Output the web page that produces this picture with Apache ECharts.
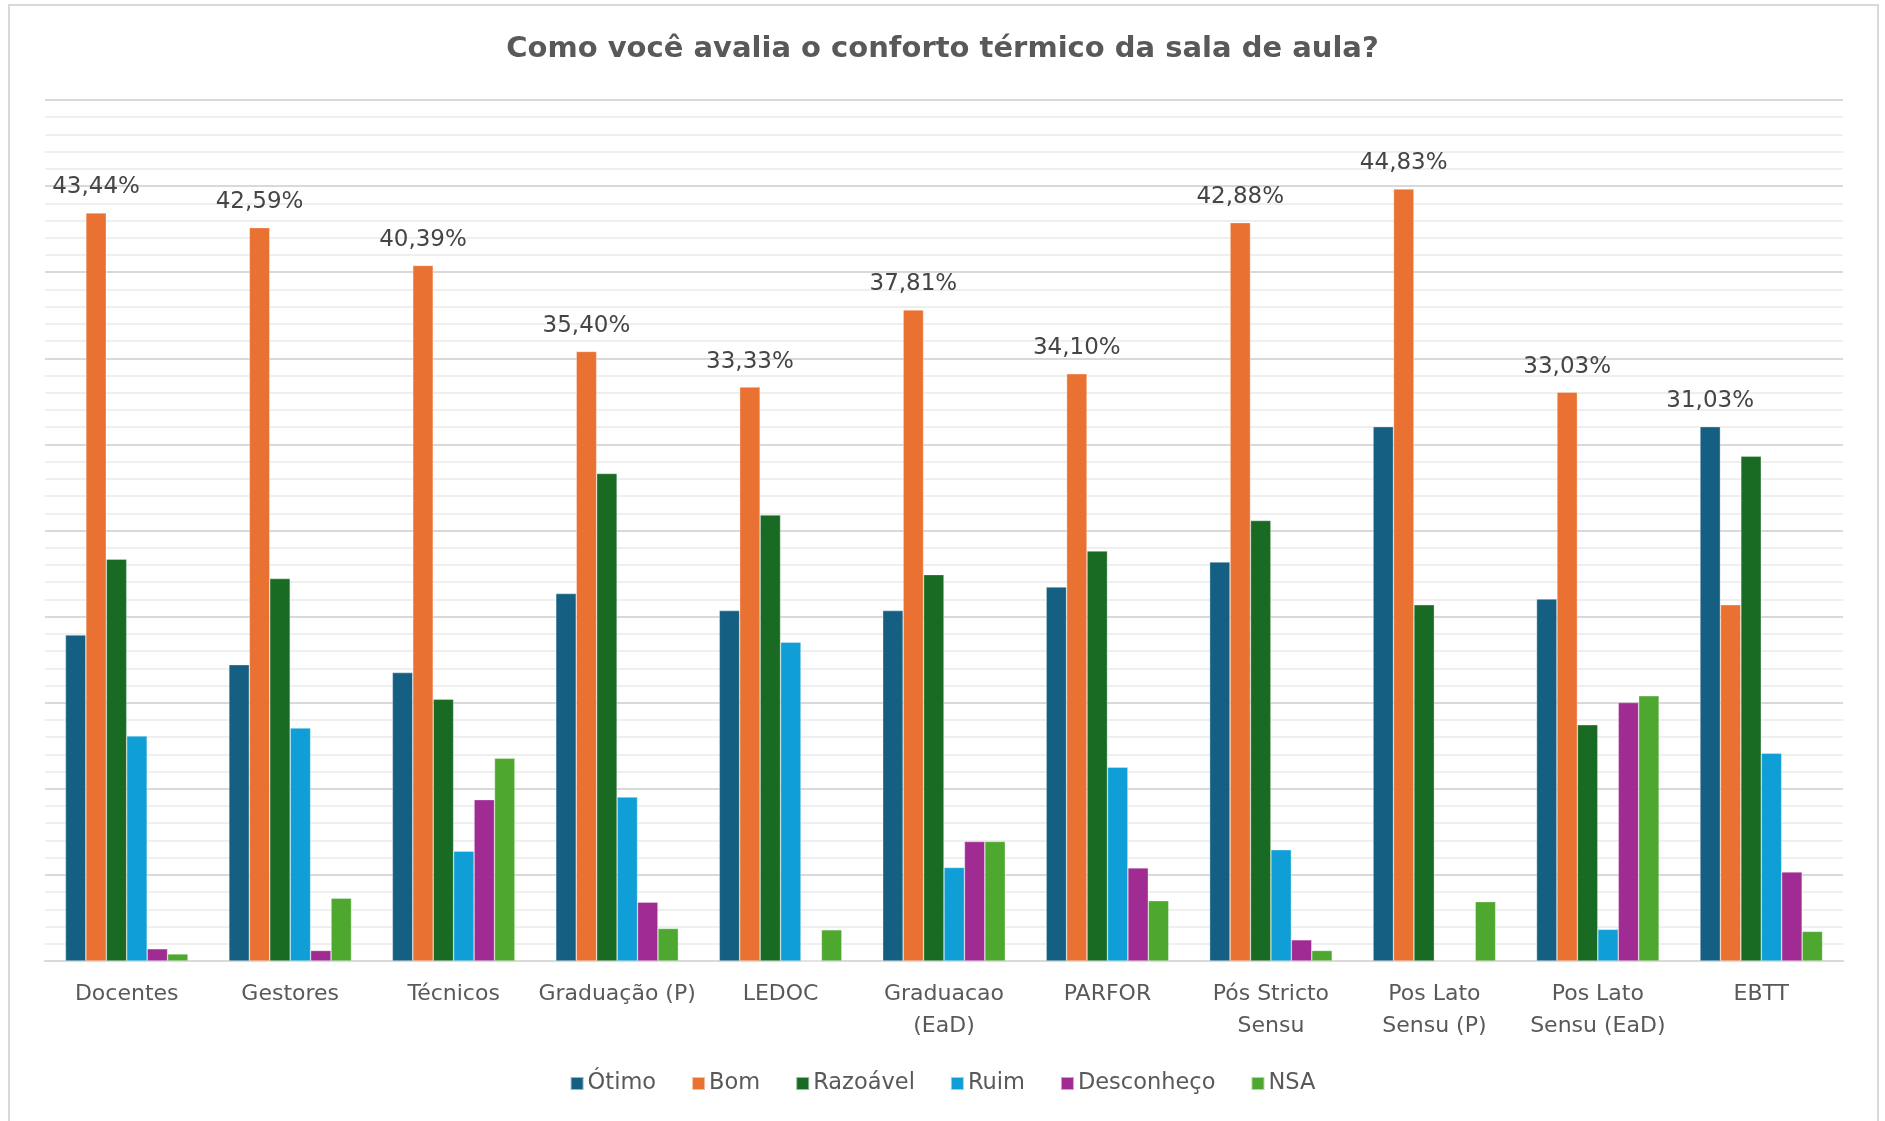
<!DOCTYPE html>
<html>
<head>
<meta charset="utf-8">
<script src="https://cdn.jsdelivr.net/npm/echarts@6/dist/echarts.min.js"></script>
<style>
  html, body { margin: 0; padding: 0; background: #ffffff; }
  #chart { width: 1885px; height: 1121px; }
</style>
</head>
<body>
<div id="chart"></div>
<script>
// Respondent groups (tick labels, broken onto two lines where needed)
const categories = [
  'Docentes', 'Gestores', 'Técnicos', 'Graduação (P)', 'LEDOC',
  'Graduacao\n(EaD)', 'PARFOR', 'Pós Stricto\nSensu', 'Pos Lato\nSensu (P)',
  'Pos Lato\nSensu (EaD)', 'EBTT'
];

// Answer shares per group, in percent
const otimo       = [18.93, 17.21, 16.75, 21.34, 20.35, 20.35, 21.72, 23.17, 31.03, 21.02, 31.03];
const bom         = [43.44, 42.59, 40.39, 35.40, 33.33, 37.81, 34.10, 42.88, 44.83, 33.03, 20.69];
const razoavel    = [23.34, 22.21, 15.21, 28.31, 25.90, 22.44, 23.81, 25.58, 20.69, 13.72, 29.31];
const ruim        = [13.07, 13.53,  6.38,  9.52, 18.51,  5.43, 11.26,  6.46,  0.00,  1.84, 12.07];
const desconheco  = [ 0.71,  0.61,  9.37,  3.42,  0.00,  6.94,  5.41,  1.23,  0.00, 15.01,  5.17];
const nsa         = [ 0.41,  3.65, 11.77,  1.89,  1.81,  6.94,  3.50,  0.61,  3.45, 15.40,  1.72];

const seriesNames = ['Ótimo', 'Bom', 'Razoável', 'Ruim', 'Desconheço', 'NSA'];
const seriesValues = [otimo, bom, razoavel, ruim, desconheco, nsa];
const seriesColors = ['#156082', '#E97132', '#196B24', '#0F9ED5', '#A02B93', '#4EA72E'];

const FONT = '"DejaVu Sans", "Liberation Sans", sans-serif';

// The tallest answer of each group carries the value label
function isGroupMax(sIdx, cIdx) {
  let best = 0;
  for (let s = 1; s < seriesValues.length; s++) {
    if (seriesValues[s][cIdx] > seriesValues[best][cIdx]) best = s;
  }
  return best === sIdx;
}

function fmtPct(v) {
  return v.toFixed(2).replace('.', ',') + '%';
}

const series = seriesNames.map((name, s) => ({
  name: name,
  type: 'bar',
  barGap: '0%',
  barCategoryGap: '25%',
  itemStyle: { color: seriesColors[s], borderColor: 'rgba(255,255,255,0.55)', borderWidth: 0.6 },
  label: {
    show: false,
    position: 'top',
    distance: 14,
    fontFamily: FONT,
    fontSize: 23,
    color: '#454545',
    formatter: p => fmtPct(p.value)
  },
  emphasis: { disabled: true },
  data: seriesValues[s].map((v, c) => ({ value: v, label: { show: isGroupMax(s, c) } }))
}));

const chart = echarts.init(document.getElementById('chart'), null, { renderer: 'canvas' });

chart.setOption({
  backgroundColor: '#ffffff',
  animation: false,
  title: {
    text: 'Como você avalia o conforto térmico da sala de aula?',
    left: 'center',
    top: 35,
    padding: 0,
    textStyle: { fontFamily: FONT, fontSize: 29, fontWeight: 'bold', color: '#595959' }
  },
  legend: {
    data: seriesNames,
    left: 'center',
    top: 1067,
    icon: 'rect',
    itemWidth: 13,
    itemHeight: 13,
    itemGap: 35,
    textStyle: { fontFamily: FONT, fontSize: 22.5, color: '#595959', padding: [0, 0, 0, -1] }
  },
  grid: { left: 45, right: 42, top: 100, bottom: 160 },
  xAxis: {
    type: 'category',
    data: categories,
    axisLine: { show: true, lineStyle: { color: '#d9d9d9', width: 2 } },
    axisTick: { show: false },
    axisLabel: {
      interval: 0,
      margin: 18,
      fontFamily: FONT,
      fontSize: 22,
      lineHeight: 31.5,
      color: '#595959'
    }
  },
  yAxis: {
    type: 'value',
    min: 0,
    max: 50,
    interval: 5,
    axisLabel: { show: false },
    axisLine: { show: false },
    axisTick: { show: false },
    splitLine: { show: true, lineStyle: { color: '#d9d9d9', width: 2 } },
    minorTick: { show: false, splitNumber: 5 },
    minorSplitLine: { show: true, lineStyle: { color: '#efefef', width: 2 } }
  },
  graphic: [{
    type: 'rect',
    z: -10,
    shape: { x: 9, y: 5, width: 1869, height: 1140 },
    style: { fill: 'none', stroke: '#d9d9d9', lineWidth: 2 }
  }],
  series: series
});
</script>
</body>
</html>
